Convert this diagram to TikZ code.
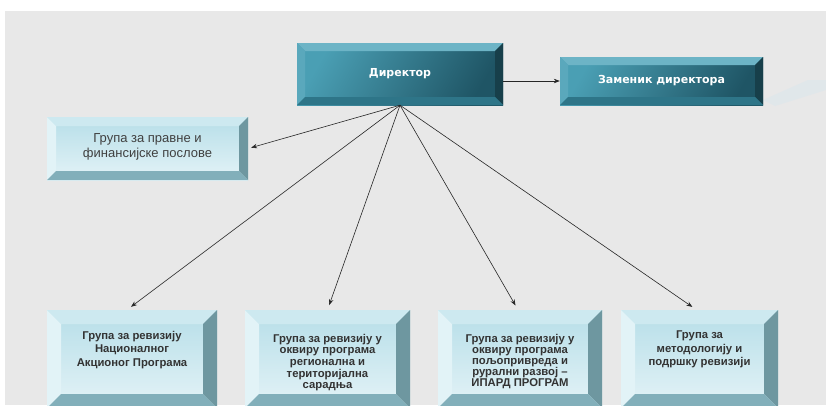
\documentclass[tikz,border=0pt]{standalone}
\usepackage{fontspec}
\setmainfont{Liberation Sans}
\newfontfamily\dvs{DejaVu Sans}
\usetikzlibrary{arrows.meta,calc}
\definecolor{bggray}{HTML}{E8E8E8}
\definecolor{dtop}{HTML}{6DB4C6}
\definecolor{dleft}{HTML}{5AA8BC}
\definecolor{dright}{HTML}{173F4A}
\definecolor{dbot}{HTML}{2E7588}
\definecolor{dfaceA}{HTML}{4A9FB4}
\definecolor{dfaceB}{HTML}{1F5565}
\definecolor{ltop}{HTML}{CDE9F0}
\definecolor{lleft}{HTML}{E2F3F7}
\definecolor{lright}{HTML}{6E97A0}
\definecolor{lbot}{HTML}{82AFBA}
\definecolor{lfaceA}{HTML}{B6DEE8}
\definecolor{lfaceB}{HTML}{E4F3F7}
\definecolor{txtgray}{HTML}{333333}
\newcommand\bevelfill[5]{%
  \fill[#2] (path picture bounding box.north west) -- (path picture bounding box.north east)
    -- ([shift={(-#1,-#1)}]path picture bounding box.north east)
    -- ([shift={(#1,-#1)}]path picture bounding box.north west) -- cycle;
  \fill[#3] (path picture bounding box.north west) -- (path picture bounding box.south west)
    -- ([shift={(#1,#1)}]path picture bounding box.south west)
    -- ([shift={(#1,-#1)}]path picture bounding box.north west) -- cycle;
  \fill[#4] (path picture bounding box.north east) -- (path picture bounding box.south east)
    -- ([shift={(-#1,#1)}]path picture bounding box.south east)
    -- ([shift={(-#1,-#1)}]path picture bounding box.north east) -- cycle;
  \fill[#5] (path picture bounding box.south west) -- (path picture bounding box.south east)
    -- ([shift={(-#1,#1)}]path picture bounding box.south east)
    -- ([shift={(#1,#1)}]path picture bounding box.south west) -- cycle;
}
\tikzset{
  darkbox/.style={inner sep=0pt, text=white, font=\dvs\bfseries\fontsize{11}{13}\selectfont,
    left color=dfaceA, right color=dfaceB, shading angle=60,
    path picture={\bevelfill{8pt}{dtop}{dleft}{dright}{dbot}}},
  lightbox/.style={inner sep=0pt, top color=lfaceA, bottom color=lfaceB,
    path picture={\bevelfill{#1}{ltop}{lleft}{lright}{lbot}}},
  lighttext/.style={align=center, inner sep=0pt, text=txtgray},
  conn/.style={-{Stealth[length=6pt,width=4.5pt]}, line width=0.6pt, black!85},
}
\begin{document}
\begin{tikzpicture}[x=1pt,y=-1pt]
\useasboundingbox (0,0) rectangle (826,405);
\clip (0,0) rectangle (826,405);
\fill[white] (0,0) rectangle (826,405);
\fill[bggray] (5,11) rectangle (826,405);
% faint reflection near deputy box
\fill[cyan!30!white, opacity=0.15] (763,100) -- (808,80) -- (826,80) -- (826,90) -- (775,106) -- cycle;

\node[darkbox, minimum width=206pt, minimum height=62pt] (dir) at (400,74) {Директор};
\node[darkbox, minimum width=203pt, minimum height=48pt] (zam) at (661.5,81) {Заменик директора};

\node[lightbox=9pt, minimum width=201pt, minimum height=63pt] (lp) at (147.5,148.5) {};
\node[lighttext, font=\fontsize{13}{15}\selectfont, text=black!75] (lpt) at (147.5,146.5)
  {Група за правне и\\финансијске послове};

\node[lightbox=14pt, minimum width=170pt, minimum height=98pt] (b1) at (132,359) {};
\node[lightbox=14pt, minimum width=165pt, minimum height=98pt] (b2) at (327.5,359) {};
\node[lightbox=14pt, minimum width=164pt, minimum height=98pt] (b3) at (520,359) {};
\node[lightbox=14pt, minimum width=157pt, minimum height=98pt] (b4) at (699.5,359) {};

\node[lighttext, font=\bfseries\fontsize{11.3}{13.5}\selectfont, anchor=north] (t1) at (132,331)
  {Група за ревизију\\Националног\\Акционог Програма};
\node[lighttext, font=\bfseries\fontsize{11.3}{11.6}\selectfont, anchor=north] (t2) at (327.5,334)
  {Група за ревизију у\\оквиру програма\\регионална и\\територијална\\сарадња};
\node[lighttext, font=\bfseries\fontsize{11.3}{11.1}\selectfont, anchor=north] (t3) at (520,334)
  {Група за ревизију у\\оквиру програма\\пољопривреда и\\рурални развој –\\ИПАРД ПРОГРАМ};
\node[lighttext, font=\bfseries\fontsize{11.3}{13.5}\selectfont, anchor=north] (t4) at (699.5,331)
  {Група за\\методологију и\\подршку ревизији};

\draw[conn] (dir.east |- zam.west) -- (zam.west);
\coordinate (hub) at (dir.south);
\draw[conn, shorten >=3pt] (hub) -- (lp.east);
\draw[conn, shorten >=5pt] (hub) -- ([xshift=-5pt]b1.north);
\draw[conn, shorten >=5pt] (hub) -- (b2.north);
\draw[conn, shorten >=5pt] (hub) -- ([xshift=-2pt]b3.north);
\draw[conn, shorten >=5pt] (hub) -- ([xshift=-3pt]b4.north);
\end{tikzpicture}
\end{document}
